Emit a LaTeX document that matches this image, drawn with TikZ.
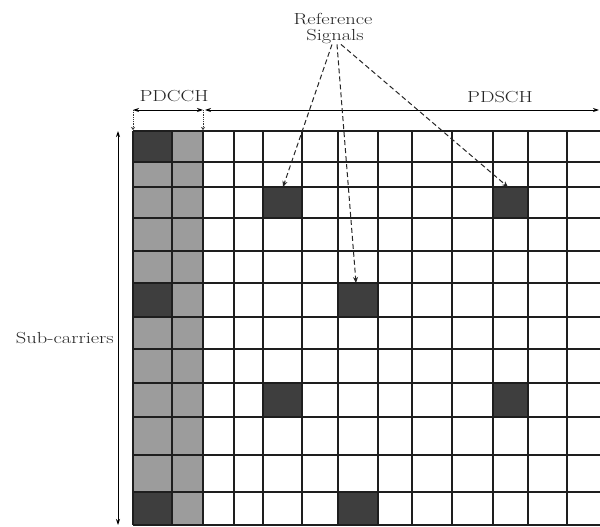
\documentclass[tikz,border=0pt]{standalone}
\usetikzlibrary{arrows.meta}
\definecolor{darkcell}{HTML}{3E3E3E}
\definecolor{graycell}{HTML}{9C9C9C}
\definecolor{gridline}{HTML}{1E1E1E}
\newcommand{\widetxt}[1]{\scalebox{1.28}[1]{#1}}
\begin{document}
\begin{tikzpicture}[x=1pt,y=-1pt,
  lbl/.style={font=\fontsize{16}{18}\selectfont, text=black!85, inner sep=0pt},
  gridln/.style={draw=gridline, line width=1.3pt},
  dim/.style={draw=black, line width=0.9pt, {Stealth[length=6pt,width=4pt]}-{Stealth[length=6pt,width=4pt]}},
  rsarrow/.style={draw=black!85, line width=1pt, dashed, dash pattern=on 5pt off 3pt, -{Stealth[length=6pt,width=5pt]}},
  tick/.style={draw=black!80, line width=0.8pt, densely dotted, -{Stealth[length=3pt,width=4pt]}}]
\useasboundingbox (0,0) rectangle (600,527);
\fill[white] (0,0) rectangle (600,527);
% control region
\fill[graycell] (133,131) rectangle (203,525);
\foreach \ya/\yb in {131/162,283/317,492/525}
  \fill[darkcell] (133,\ya) rectangle (172,\yb);
% reference signal cells
\foreach \xa/\xb/\ya/\yb in {263/302/187/218, 493/528/187/218, 338/378/283/317,
                             263/302/383/417, 493/528/383/417, 338/378/492/525}
  \fill[darkcell] (\xa,\ya) rectangle (\xb,\yb);
% grid
\foreach \x in {133,172,203,234,263,302,338,378,412,452,493,528,567}
  \draw[gridln] (\x,131) -- (\x,525);
\foreach \y in {131,162,187,218,251,283,317,349,383,417,455,492,525}
  \draw[gridln] (133,\y) -- (600,\y);
% named coordinates
\coordinate (c1) at (133,110);
\coordinate (c2) at (203,110);
\coordinate (c3) at (205,110);
\coordinate (c4) at (599,110);
\coordinate (g1) at (133,130);
\coordinate (g2) at (203,130);
\coordinate (s1) at (118,131);
\coordinate (s2) at (118,525);
\coordinate (rs1) at (283,187);
\coordinate (rs2) at (356,283);
\coordinate (rs3) at (508,187);
% labels
\node[lbl] (pdcch) at (174,96) {\widetxt{PDCCH}};
\node[lbl] (pdsch) at (500,97) {\widetxt{PDSCH}};
\node[lbl] (ref) at (333,19) {\widetxt{Reference}};
\node[lbl] (sig) at (335,37) {\widetxt{Signals}};
\node[lbl, anchor=east] (sub) at (114,338) {\widetxt{Sub-carriers}};
% dimension arrows
\draw[dim] (c1) -- (c2);
\draw[dim] (c3) -- (c4);
\draw[tick] (c1) -- (g1);
\draw[tick] (c2) -- (g2);
\draw[dim] (s1) -- (s2);
% reference signal arrows
\draw[rsarrow] ([xshift=-3pt]sig.south) -- (rs1);
\draw[rsarrow] ([xshift=2pt]sig.south) -- (rs2);
\draw[rsarrow] ([xshift=6pt]sig.south) -- (rs3);
\end{tikzpicture}
\end{document}
